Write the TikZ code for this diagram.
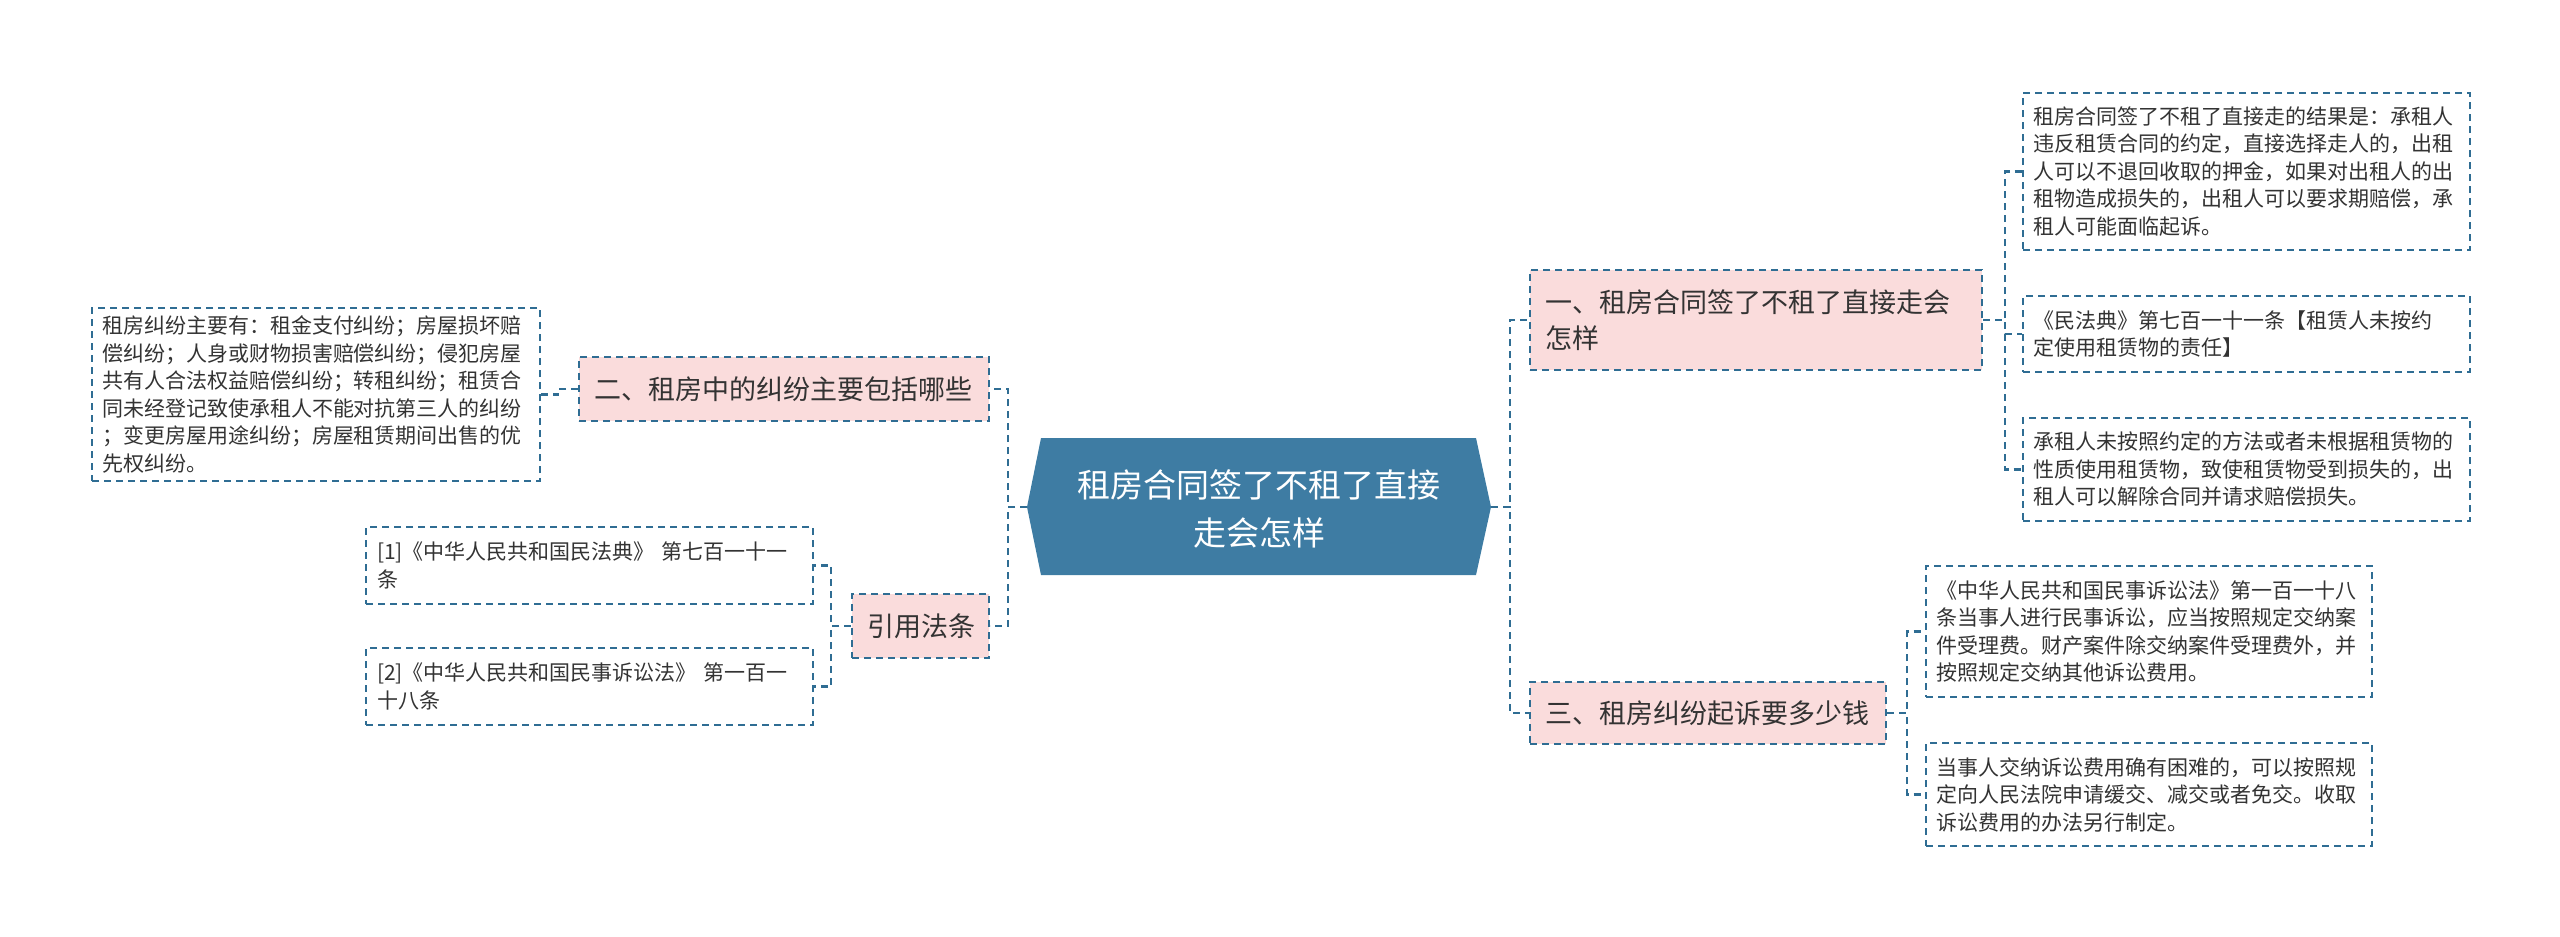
\documentclass[tikz,border=0pt]{standalone}
\usepackage{fontspec}
\setmainfont{Noto Sans CJK SC}
\usetikzlibrary{calc}
\definecolor{rootblue}{HTML}{3E7CA3}
\definecolor{linec}{HTML}{2F6D93}
\definecolor{pinkc}{HTML}{FADCDC}
\definecolor{txt}{HTML}{333333}
\tikzset{
  dashy/.style={dash pattern=on 7pt off 5pt},
  leaf/.style={draw=linec, line width=2pt, dashy, align=left, inner xsep=10pt, inner ysep=0pt,
    text=txt, font=\fontsize{21pt}{27.5pt}\selectfont, anchor=north west},
  topic/.style={draw=linec, fill=pinkc, line width=2pt, dashy, align=left, inner xsep=15pt, inner ysep=0pt,
    text=txt, font=\fontsize{27pt}{36pt}\selectfont, anchor=north west},
  conn/.style={draw=linec, line width=2.2pt, dashy},
}
\begin{document}
\begin{tikzpicture}[x=1pt,y=-1pt]
\useasboundingbox (0,0) rectangle (2560,937);
% root
\coordinate (rootL) at (1027,507);
\coordinate (rootR) at (1491,507);
\fill[rootblue] (1041,438) -- (1476,438) -- (rootR) -- (1476,575) -- (1041,575) -- (rootL) -- cycle;
\node[text=white, align=center, font=\fontsize{33pt}{48pt}\selectfont] (root) at (1259,509)
  {租房合同签了不租了直接\\走会怎样};
% right side
\node[topic, minimum width=452pt, minimum height=100pt, text width=422pt] (b1) at (1529,269)
  {一、租房合同签了不租了直接走会\\怎样};
\node[topic, minimum width=356pt, minimum height=62pt, text width=326pt] (b3) at (1529,681)
  {三、租房纠纷起诉要多少钱};
\node[leaf, minimum width=447pt, minimum height=157pt, text width=427pt] (t1) at (2022,92)
  {租房合同签了不租了直接走的结果是：承租人\\违反租赁合同的约定，直接选择走人的，出租\\人可以不退回收取的押金，如果对出租人的出\\租物造成损失的，出租人可以要求期赔偿，承\\租人可能面临起诉。};
\node[leaf, minimum width=447pt, minimum height=76pt, text width=427pt] (t2) at (2022,295)
  {《民法典》第七百一十一条【租赁人未按约\\定使用租赁物的责任】};
\node[leaf, minimum width=447pt, minimum height=103pt, text width=427pt] (t3) at (2022,417)
  {承租人未按照约定的方法或者未根据租赁物的\\性质使用租赁物，致使租赁物受到损失的，出\\租人可以解除合同并请求赔偿损失。};
\node[leaf, minimum width=446pt, minimum height=131pt, text width=426pt] (tA) at (1925,565)
  {《中华人民共和国民事诉讼法》第一百一十八\\条当事人进行民事诉讼，应当按照规定交纳案\\件受理费。财产案件除交纳案件受理费外，并\\按照规定交纳其他诉讼费用。};
\node[leaf, minimum width=446pt, minimum height=103pt, text width=426pt] (tB) at (1925,742)
  {当事人交纳诉讼费用确有困难的，可以按照规\\定向人民法院申请缓交、减交或者免交。收取\\诉讼费用的办法另行制定。};
% left side
\node[topic, minimum width=410pt, minimum height=64pt, text width=380pt] (b2) at (578,356)
  {二、租房中的纠纷主要包括哪些};
\node[topic, minimum width=137pt, minimum height=64pt, text width=107pt] (b4) at (851,593)
  {引用法条};
\node[leaf, minimum width=448pt, minimum height=173pt, text width=428pt] (tL) at (91,307)
  {租房纠纷主要有：租金支付纠纷；房屋损坏赔\\偿纠纷；人身或财物损害赔偿纠纷；侵犯房屋\\共有人合法权益赔偿纠纷；转租纠纷；租赁合\\同未经登记致使承租人不能对抗第三人的纠纷\\；变更房屋用途纠纷；房屋租赁期间出售的优\\先权纠纷。};
\node[leaf, minimum width=447pt, minimum height=77pt, text width=425pt, inner xsep=11pt] (r1) at (365,526)
  {[1]《中华人民共和国民法典》 第七百一十一\\条};
\node[leaf, minimum width=447pt, minimum height=77pt, text width=425pt, inner xsep=11pt] (r2) at (365,647)
  {[2]《中华人民共和国民事诉讼法》 第一百一\\十八条};
% connectors
\draw[conn] (rootR) -- ++(19,0) |- (b1.west);
\draw[conn] (rootR) -- ++(19,0) |- (b3.west);
\draw[conn] (rootL) -- ++(-19,0) |- (b2.east);
\draw[conn] (rootL) -- ++(-19,0) |- (b4.east);
\draw[conn] (b1.east) -- ++(22,0) |- (t1.west);
\draw[conn] (b1.east) -- ++(22,0) |- (t2.west);
\draw[conn] (b1.east) -- ++(22,0) |- (t3.west);
\draw[conn] (b3.east) -- ++(20,0) |- (tA.west);
\draw[conn] (b3.east) -- ++(20,0) |- (tB.west);
\draw[conn] (b2.west) -- ++(-20,0) |- (tL.east);
\draw[conn] (b4.west) -- ++(-20,0) |- (r1.east);
\draw[conn] (b4.west) -- ++(-20,0) |- (r2.east);
\end{tikzpicture}
\end{document}
